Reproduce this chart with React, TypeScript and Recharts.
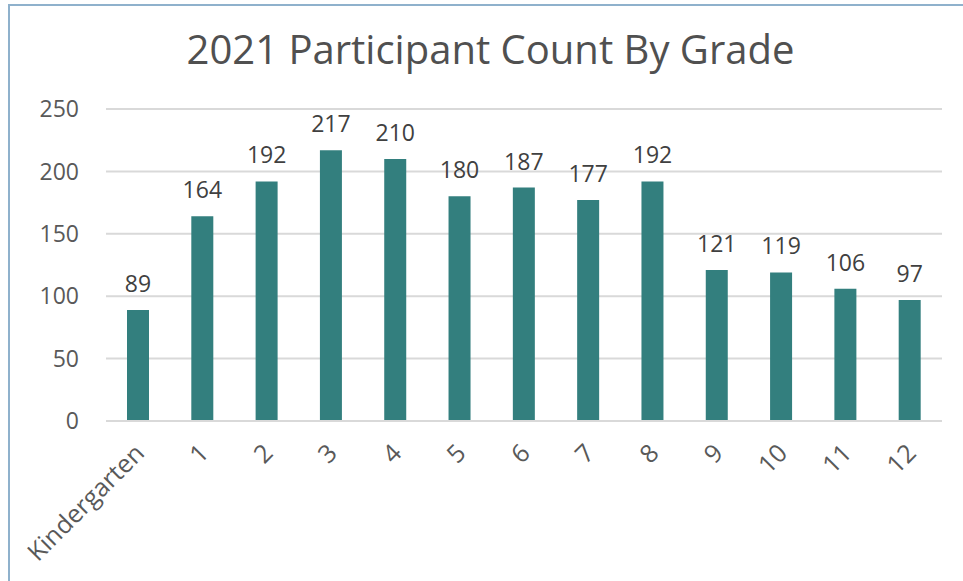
import React from "react";
import { BarChart, Bar, XAxis, YAxis, CartesianGrid, LabelList } from "recharts";

const grades = ["Kindergarten", "1", "2", "3", "4", "5", "6", "7", "8", "9", "10", "11", "12"];
const counts = [89, 164, 192, 217, 210, 180, 187, 177, 192, 121, 119, 106, 97];
const yTicks = [0, 50, 100, 150, 200, 250];

const data = grades.map((grade, i) => ({ grade, count: counts[i] }));

const FONT = "'Open Sans', sans-serif";
const TEXT = "#595959";

function GradeTick(props: any) {
  const { x, y, payload } = props;
  return (
    <g transform={`translate(${x + 2},${y + 20})`}>
      <text
        transform="rotate(-45)"
        textAnchor="end"
        fill={TEXT}
        fontSize={25}
        fontFamily={FONT}
        dy={8}
      >
        {payload.value}
      </text>
    </g>
  );
}

export default function App() {
  return (
    <div
      style={{
        position: "absolute",
        left: 0,
        top: 0,
        width: 963,
        height: 581,
        background: "#fff",
        fontFamily: FONT,
      }}
    >
      <div
        style={{
          position: "absolute",
          left: 8,
          top: 4,
          width: 955,
          height: 577,
          borderLeft: "2px solid #8fb1cc",
          borderTop: "2px solid #8fb1cc",
        }}
      />
      <div
        style={{
          position: "absolute",
          left: 9,
          width: 963,
          top: 21,
          textAlign: "center",
          fontSize: 40,
          color: "#505050",
          lineHeight: "56px",
        }}
      >
        2021 Participant Count By Grade
      </div>
      <div style={{ position: "absolute", left: 0, top: 0 }}>
        <BarChart
          width={963}
          height={581}
          data={data}
          margin={{ top: 109, right: 21, left: 10, bottom: 0 }}
          barSize={22}
        >
          <CartesianGrid vertical={false} stroke="#d9d9d9" strokeWidth={2} />
          <XAxis
            dataKey="grade"
            interval={0}
            height={160}
            tick={<GradeTick />}
            tickLine={false}
            axisLine={{ stroke: "#d9d9d9", strokeWidth: 2 }}
          />
          <YAxis
            width={96}
            domain={[0, 250]}
            ticks={yTicks}
            tickLine={false}
            axisLine={false}
            tick={{ fill: TEXT, fontSize: 23, fontFamily: FONT, dx: -19 }}
          />
          <Bar dataKey="count" fill="#337f7e" isAnimationActive={false}>
            <LabelList
              dataKey="count"
              position="top"
              offset={18}
              fill="#404040"
              fontSize={23}
              fontFamily={FONT}
            />
          </Bar>
        </BarChart>
      </div>
    </div>
  );
}
